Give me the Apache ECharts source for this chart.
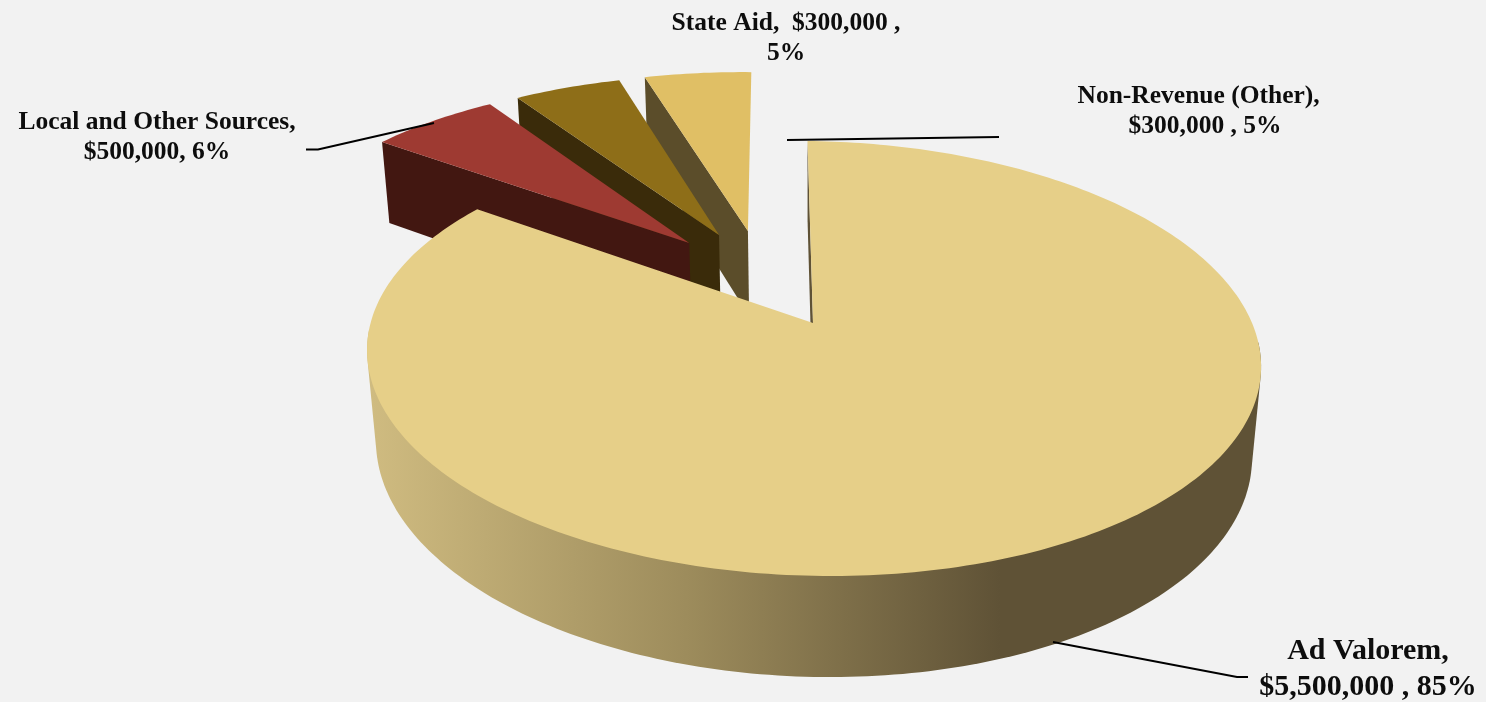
<!DOCTYPE html>
<html>
<head>
<meta charset="utf-8">
<style>
  html, body { margin: 0; padding: 0; background: #f2f2f2; }
  #chart { width: 1486px; height: 702px; }
</style>
<script src="https://cdn.jsdelivr.net/npm/echarts@6/dist/echarts.min.js"></script>
</head>
<body>
<div id="chart"></div>
<script>
// Revenue sources, clockwise from twelve o'clock. Shares are unrounded; labels round them.
const categories = ['Ad Valorem', 'Local and Other Sources', 'State Aid', 'Non-Revenue (Other)'];
const amounts = [5500000, 500000, 300000, 300000];
const percents = [84.6, 5.8, 4.8, 4.8];
const labelTemplates = [
  '{name},\n{money} , {pct}%',
  '{name},\n{money}, {pct}%',
  '{name},  {money} ,\n{pct}%',
  '{name},  \n{money} , {pct}%'
];

// Per-slice appearance and layout.
const topColors = ['#e6cf88', '#9e3a32', '#8e6e18', '#e0bf65'];
const sideColors = ['#5f5236', '#421711', '#3a2b0a', '#5b4d2a'];
const explode = [[0, 0], [-0.293, 0.395], [-0.222, 0.44], [-0.152, 0.464]];
const paintRank = [3, 2, 1, 0];
const labelLayout = [
  { x: 1368, y: 669, size: 30, lineHeight: 36 },
  { x: 157, y: 137, size: 25.5, lineHeight: 30 },
  { x: 786, y: 38, size: 25.5, lineHeight: 30 },
  { x: 1205, y: 111, size: 25.5, lineHeight: 30 }
];
const leaderLines = [
  [[1053, 642], [1237, 677], [1248, 677]],
  [[306, 149.5], [318, 149.5], [434, 123]],
  [],
  [[787, 140], [999, 137]]
];

// Camera model: disc coordinates (x right, y away, d = 0 top face, 1 bottom face) to screen.
const camera = { x0: 813, y0: 323, a: 441, b: 211.7, skewX: -6.4, skewY: -5, drop: 91.7, p: 0.163, r: 0.02 };
function project(x, y, d) {
  const c = camera;
  const w = 1 + c.p * y + c.r * d;
  return [
    c.x0 + (c.a * x + c.skewX * y) / w,
    c.y0 - (c.b * y + c.skewY * x - c.drop * d) / w
  ];
}

const totalShare = percents.reduce((s, v) => s + v, 0);
const sweeps = [];
let running = 0;
percents.forEach(p => {
  const start = running;
  running += (p / totalShare) * 2 * Math.PI;
  sweeps.push([start, running]);
});

function arcPoints(i, d, keep) {
  const [from, to] = sweeps[i];
  const [ox, oy] = explode[i];
  const steps = Math.max(4, Math.ceil((to - from) / (Math.PI / 180)));
  const pts = [];
  for (let k = 0; k <= steps; k++) {
    const t = from + (to - from) * k / steps;
    if (!keep || keep(t)) {
      pts.push(project(ox + Math.sin(t), oy + Math.cos(t), d));
    }
  }
  return pts;
}

// Monotone-chain convex hull, used for the outline of the extruded rim.
function convexHull(points) {
  const pts = points.slice().sort((a, b) => a[0] - b[0] || a[1] - b[1]);
  const cross = (o, a, b) => (a[0] - o[0]) * (b[1] - o[1]) - (a[1] - o[1]) * (b[0] - o[0]);
  const chain = list => {
    const out = [];
    list.forEach(p => {
      while (out.length >= 2 && cross(out[out.length - 2], out[out.length - 1], p) <= 0) out.pop();
      out.push(p);
    });
    out.pop();
    return out;
  };
  return chain(pts).concat(chain(pts.slice().reverse()));
}

function formatMoney(v) {
  return '$' + v.toString().replace(/\B(?=(\d{3})+(?!\d))/g, ',');
}

function labelText(i) {
  return labelTemplates[i]
    .replace('{name}', categories[i])
    .replace('{money}', formatMoney(amounts[i]))
    .replace('{pct}', Math.round(percents[i]));
}

function renderSlice(params, api) {
  const i = api.value(0);
  const rank = paintRank[i] * 10;
  const [ox, oy] = explode[i];
  const topArc = arcPoints(i, 0);
  const bottomArc = arcPoints(i, 1);
  const apexTop = project(ox, oy, 0);
  const apexBottom = project(ox, oy, 1);

  const poly = (points, fill, z2) => ({
    type: 'polygon',
    z2,
    shape: { points },
    style: { fill, stroke: null }
  });

  // Cut face on the leading edge, then the top face above it.
  const children = [
    poly([apexTop, topArc[0], bottomArc[0], apexBottom], sideColors[i], rank + 1),
    poly([apexTop].concat(topArc), topColors[i], rank + 3)
  ];

  // Only the large slice shows a rim, and only along its near side; it is lit from the left.
  if (i === 0) {
    const near = t => Math.cos(t) < -0.05;
    const rimFill = new echarts.graphic.LinearGradient(372, 0, 1000, 0, [
      { offset: 0, color: '#cfbb80' },
      { offset: 0.5, color: '#9d8c5c' },
      { offset: 1, color: sideColors[0] }
    ], true);
    children.push(poly(
      convexHull(arcPoints(0, 0, near).concat(arcPoints(0, 1, near))),
      rimFill,
      rank
    ));
  }

  if (leaderLines[i].length) {
    children.push({
      type: 'polyline',
      z2: 100,
      shape: { points: leaderLines[i] },
      style: { stroke: '#000', lineWidth: 2, fill: null }
    });
  }

  const lay = labelLayout[i];
  children.push({
    type: 'text',
    z2: 101,
    x: lay.x,
    y: lay.y,
    style: {
      text: labelText(i),
      fill: '#0d0d0d',
      font: 'bold ' + lay.size + 'px "Liberation Serif", serif',
      lineHeight: lay.lineHeight,
      align: 'center',
      verticalAlign: 'middle'
    }
  });

  return { type: 'group', children };
}

const chart = echarts.init(document.getElementById('chart'), null, { renderer: 'canvas' });
chart.setOption({
  animation: false,
  backgroundColor: '#f2f2f2',
  series: [{
    type: 'custom',
    coordinateSystem: 'none',
    silent: true,
    data: categories.map((c, i) => [i, amounts[i], percents[i]]),
    renderItem: renderSlice
  }]
});
</script>
</body>
</html>
